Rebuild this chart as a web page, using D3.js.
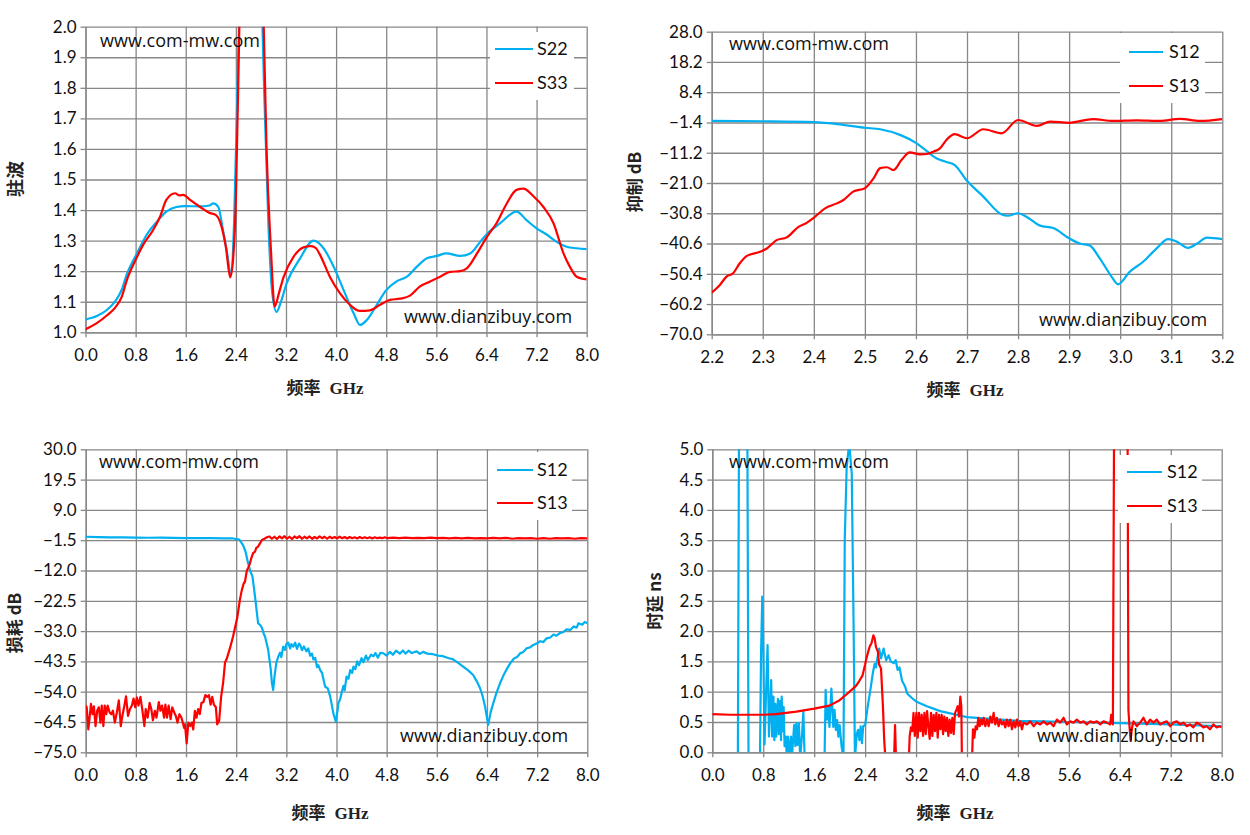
<!DOCTYPE html>
<html><head><meta charset="utf-8">
<script src="https://cdn.jsdelivr.net/npm/d3@7"></script>
<style>
body{margin:0;background:#fff;}
svg{display:block;}
</style></head><body>
<svg id="c" width="1250" height="835"></svg>
<script>
// ---------------- DATA ----------------
// Panel 1: VSWR (驻波)
const vswrXTicks = [0,0.8,1.6,2.4,3.2,4.0,4.8,5.6,6.4,7.2,8.0];
const vswrYTicks = [1.0,1.1,1.2,1.3,1.4,1.5,1.6,1.7,1.8,1.9,2.0];
const vswrS22 = [[0,1.042],[0.18,1.053],[0.34,1.073],[0.47,1.10],[0.58,1.14],[0.66,1.19],[0.8,1.25],[0.98,1.32],[1.14,1.362],[1.29,1.395],[1.45,1.41],[1.59,1.413],[1.83,1.412],[1.98,1.415],[2.04,1.422],[2.12,1.41],[2.19,1.34],[2.26,1.26],[2.32,1.19],[2.37,1.35],[2.42,1.75],[2.46,2.1],[2.55,2.9],[2.7,2.9],[2.8,2.2],[2.85,1.8],[2.92,1.35],[2.98,1.13],[3.05,1.067],[3.12,1.10],[3.21,1.16],[3.42,1.24],[3.64,1.30],[3.80,1.275],[3.96,1.215],[4.12,1.138],[4.28,1.062],[4.38,1.024],[4.49,1.04],[4.65,1.09],[4.80,1.138],[4.96,1.166],[5.13,1.182],[5.29,1.215],[5.45,1.242],[5.61,1.25],[5.76,1.258],[5.98,1.25],[6.14,1.258],[6.30,1.296],[6.40,1.32],[6.62,1.357],[6.88,1.395],[7.04,1.367],[7.20,1.34],[7.36,1.32],[7.52,1.296],[7.68,1.28],[7.84,1.275],[8.0,1.272]];
const vswrS33 = [[0,1.01],[0.18,1.03],[0.34,1.055],[0.47,1.08],[0.58,1.117],[0.66,1.171],[0.8,1.237],[0.92,1.286],[1.08,1.335],[1.19,1.378],[1.29,1.433],[1.43,1.455],[1.50,1.448],[1.56,1.45],[1.67,1.433],[1.83,1.41],[1.99,1.39],[2.07,1.385],[2.15,1.36],[2.24,1.28],[2.31,1.18],[2.36,1.25],[2.40,1.43],[2.46,2.05],[2.55,2.9],[2.75,2.9],[2.84,2.05],[2.89,1.6],[2.96,1.27],[3.02,1.084],[3.09,1.13],[3.16,1.18],[3.32,1.247],[3.48,1.278],[3.60,1.282],[3.68,1.275],[3.74,1.255],[3.90,1.182],[4.06,1.128],[4.22,1.09],[4.38,1.07],[4.54,1.072],[4.70,1.09],[4.86,1.106],[5.02,1.11],[5.18,1.12],[5.34,1.15],[5.50,1.166],[5.66,1.182],[5.82,1.198],[5.98,1.20],[6.09,1.21],[6.25,1.258],[6.40,1.31],[6.56,1.357],[6.72,1.42],[6.88,1.466],[6.99,1.47],[7.15,1.445],[7.31,1.41],[7.47,1.357],[7.63,1.258],[7.73,1.215],[7.84,1.182],[8.0,1.173]];

// Panel 2: rejection (抑制 dB)
const rejXTicks = [2.2,2.3,2.4,2.5,2.6,2.7,2.8,2.9,3.0,3.1,3.2];
const rejYTicks = [28.0,18.2,8.4,-1.4,-11.2,-21.0,-30.8,-40.6,-50.4,-60.2,-70.0];
const rejS12 = [[2.2,-0.9],[2.3,-1.0],[2.4,-1.3],[2.45,-2.0],[2.5,-3.1],[2.53,-3.6],[2.57,-5.5],[2.6,-8.0],[2.62,-10.5],[2.64,-13.0],[2.66,-14.2],[2.676,-15.2],[2.70,-20.3],[2.732,-25.4],[2.768,-31.2],[2.78,-31.6],[2.80,-30.8],[2.817,-32.0],[2.843,-34.8],[2.869,-35.6],[2.90,-38.9],[2.921,-40.6],[2.94,-41.2],[2.96,-45.4],[2.983,-51.3],[2.996,-53.8],[3.019,-49.7],[3.045,-46.5],[3.072,-42.1],[3.094,-39.2],[3.111,-40.0],[3.133,-42.0],[3.15,-40.7],[3.17,-38.7],[3.2,-39.2]];
const rejS13 = [[2.2,-56.5],[2.216,-54],[2.229,-51.3],[2.242,-50.2],[2.255,-47],[2.269,-44.6],[2.295,-43.3],[2.308,-42.2],[2.327,-39.5],[2.347,-38.6],[2.37,-35.2],[2.386,-33.9],[2.399,-32.4],[2.422,-29.2],[2.445,-27.6],[2.458,-26.5],[2.477,-23.8],[2.50,-22.7],[2.517,-19.5],[2.53,-16.2],[2.543,-15.9],[2.556,-16.8],[2.572,-13.5],[2.588,-11.1],[2.608,-11.7],[2.621,-11.6],[2.635,-10.8],[2.647,-9.8],[2.66,-7.0],[2.676,-5.2],[2.70,-6.5],[2.732,-3.6],[2.768,-4.9],[2.80,-0.6],[2.837,-2.5],[2.863,-1.1],[2.90,-1.5],[2.947,-0.3],[2.986,-0.9],[3.032,-0.7],[3.078,-0.9],[3.117,-0.2],[3.156,-0.9],[3.2,-0.3]];

// Panel 3: loss (损耗 dB)
const lossXTicks = [0,0.8,1.6,2.4,3.2,4.0,4.8,5.6,6.4,7.2,8.0];
const lossYTicks = [30.0,19.5,9.0,-1.5,-12.0,-22.5,-33.0,-43.5,-54.0,-64.5,-75.0];
const lossS12 = [[0,-0.3],[0.2,-0.4],[0.4,-0.5],[0.6,-0.55],[0.8,-0.6],[1.0,-0.65],[1.2,-0.6],[1.4,-0.7],[1.6,-0.75],[1.8,-0.8],[2.0,-0.8],[2.2,-0.85],[2.35,-0.9],[2.45,-1.3],[2.51,-3.2],[2.55,-5.5],[2.59,-9.5],[2.63,-12.5],[2.66,-14.1],[2.70,-21],[2.75,-30.3],[2.78,-30.8],[2.81,-31.8],[2.84,-34],[2.86,-34.9],[2.91,-39.5],[2.95,-46],[2.97,-51],[2.99,-53.4],[3.01,-49],[3.04,-44],[3.07,-41.9],[3.1,-40.5],[3.12,-42],[3.15,-38.4],[3.18,-39.5],[3.2,-37.5],[3.23,-37],[3.26,-39],[3.28,-37.5],[3.31,-38.4],[3.34,-37],[3.37,-39.2],[3.40,-37.3],[3.42,-37.8],[3.45,-39.6],[3.48,-38.3],[3.52,-40],[3.55,-39],[3.58,-41.5],[3.61,-40.8],[3.63,-42.8],[3.66,-42.3],[3.69,-45.5],[3.71,-44.8],[3.74,-46.5],[3.77,-47.5],[3.80,-50.5],[3.82,-52.3],[3.86,-52.8],[3.90,-55.7],[3.95,-61.5],[3.99,-64.4],[4.02,-60],[4.03,-58],[4.06,-56.5],[4.08,-54.5],[4.11,-52],[4.13,-53.5],[4.16,-48.8],[4.19,-49.5],[4.22,-46.5],[4.25,-47.5],[4.27,-45.3],[4.30,-46.2],[4.33,-43.5],[4.36,-44.8],[4.40,-42.4],[4.43,-43.8],[4.47,-41.5],[4.5,-43],[4.55,-41.2],[4.59,-41.7],[4.62,-40.6],[4.66,-42.2],[4.7,-40.5],[4.75,-40.7],[4.8,-41.5],[4.85,-40.2],[4.9,-41.2],[4.95,-39.8],[5.01,-40.8],[5.06,-39.7],[5.1,-40.8],[5.15,-39.8],[5.2,-40.6],[5.28,-40],[5.33,-40.9],[5.38,-40.2],[5.45,-40.8],[5.54,-41],[5.62,-41.5],[5.70,-41.7],[5.78,-42.3],[5.86,-42.8],[5.94,-44],[6.02,-45.3],[6.10,-46.6],[6.18,-48.2],[6.24,-50.5],[6.29,-52.8],[6.33,-55.5],[6.37,-59.2],[6.42,-65.5],[6.46,-61],[6.50,-58],[6.55,-54.5],[6.61,-51],[6.66,-48.5],[6.72,-46],[6.77,-44.2],[6.83,-42.5],[6.88,-42.0],[6.93,-40.7],[6.98,-40.2],[7.03,-39.0],[7.09,-38.6],[7.14,-37.8],[7.2,-37.2],[7.25,-36.5],[7.3,-36.8],[7.35,-35.5],[7.41,-35.2],[7.46,-34.2],[7.51,-34.6],[7.56,-33.7],[7.61,-33.4],[7.67,-32.4],[7.73,-32.6],[7.78,-31.4],[7.83,-31.8],[7.86,-30.3],[7.92,-30.8],[7.96,-29.8],[8.0,-30.3]];
const lossS13 = [[0,-58.8],[0.016,-59.4],[0.042,-67.1],[0.068,-61.8],[0.084,-58.2],[0.11,-61.8],[0.131,-59.1],[0.157,-65.9],[0.183,-60.6],[0.209,-59.4],[0.235,-64.7],[0.256,-58.8],[0.282,-65.9],[0.303,-58.8],[0.329,-61.8],[0.35,-58.8],[0.382,-61.2],[0.408,-61.8],[0.434,-60.6],[0.465,-64.7],[0.497,-61.2],[0.528,-57],[0.56,-65.9],[0.58,-63],[0.612,-59.4],[0.643,-55.6],[0.675,-62.4],[0.706,-60],[0.737,-58.8],[0.763,-56.4],[0.79,-59.4],[0.816,-56],[0.842,-58.8],[0.873,-55.8],[0.905,-60.6],[0.936,-65.9],[0.957,-60],[0.988,-63],[1.02,-57.9],[1.046,-60],[1.072,-63.9],[1.103,-60.6],[1.129,-63],[1.166,-57.6],[1.192,-60.6],[1.218,-58.8],[1.25,-63],[1.271,-58.5],[1.297,-63],[1.323,-58.8],[1.354,-63.5],[1.38,-59.4],[1.412,-61.2],[1.438,-62.4],[1.464,-64.7],[1.495,-61.8],[1.527,-63],[1.548,-64.7],[1.569,-66.5],[1.584,-65.3],[1.61,-71.9],[1.637,-64.7],[1.668,-65.9],[1.694,-64.7],[1.715,-67.1],[1.741,-60.6],[1.767,-63],[1.794,-60],[1.82,-61.8],[1.846,-57.9],[1.877,-57.6],[1.909,-55.2],[1.94,-55.8],[1.966,-55.2],[1.992,-58.5],[2.018,-55.8],[2.045,-58.5],[2.076,-59.4],[2.097,-65.3],[2.128,-64.1],[2.16,-55.8],[2.191,-51],[2.222,-43.9],[2.248,-42.7],[2.30,-39],[2.35,-34.9],[2.42,-28],[2.46,-22],[2.49,-18.8],[2.52,-16.5],[2.54,-15.9],[2.57,-12],[2.59,-11.2],[2.62,-9.5],[2.64,-7.8],[2.67,-6.0],[2.70,-5.5],[2.72,-4.2],[2.75,-3.7],[2.78,-2.6],[2.81,-1.4],[2.85,-1.0],[2.89,-0.5],[2.93,-0.2],[2.97,-1.0],[3.01,-0.3],[3.05,-1.1],[3.09,-0.2],[3.13,-0.9],[3.17,-0.1],[3.21,-1.0],[3.25,-0.3],[3.29,-1.1],[3.33,-0.2],[3.37,-0.8],[3.41,-0.1],[3.45,-1.0],[3.49,-0.3],[3.53,-0.9],[3.57,-0.2],[3.61,-1.0],[3.65,-0.4],[3.69,-0.9],[3.73,-0.2],[3.77,-0.8],[3.81,-0.3],[3.85,-1.0],[3.89,-0.3],[3.93,-0.8],[3.97,-0.4],[4.01,-0.9],[4.05,-0.3],[4.09,-0.8],[4.13,-0.4],[4.17,-0.9],[4.21,-0.4],[4.25,-0.8],[4.29,-0.5],[4.33,-0.9],[4.37,-0.4],[4.41,-0.8],[4.45,-0.5],[4.49,-0.8],[4.53,-0.5],[4.57,-0.9],[4.61,-0.5],[4.65,-0.8],[4.69,-0.6],[4.73,-0.8],[4.77,-0.5],[4.81,-0.8],[4.9,-0.6],[5.0,-0.8],[5.1,-0.6],[5.2,-0.8],[5.3,-0.7],[5.4,-0.8],[5.5,-0.6],[5.6,-0.8],[5.7,-0.7],[5.8,-0.9],[5.9,-0.7],[6.0,-0.9],[6.1,-0.7],[6.2,-0.9],[6.3,-0.8],[6.4,-0.9],[6.5,-0.7],[6.6,-0.9],[6.7,-0.7],[6.8,-1.0],[6.9,-0.8],[7.0,-0.9],[7.1,-0.8],[7.2,-1.0],[7.3,-0.8],[7.4,-1.0],[7.5,-0.8],[7.6,-0.9],[7.7,-0.8],[7.8,-1.0],[7.9,-0.8],[8.0,-0.9]];

// Panel 4: group delay (时延 ns)
const delayXTicks = [0,0.8,1.6,2.4,3.2,4.0,4.8,5.6,6.4,7.2,8.0];
const delayYTicks = [0.0,0.5,1.0,1.5,2.0,2.5,3.0,3.5,4.0,4.5,5.0];
const delayS12 = [[0,-0.5],[0.40,-0.5],[0.42,5.5],[0.55,5.5],[0.57,-0.5],[0.745,-0.5],[0.765,1.6],[0.785,2.57],[0.80,1.8],[0.82,0.13],[0.845,1.0],[0.868,1.77],[0.89,0.26],[0.925,1.19],[0.94,0.26],[0.96,0.92],[0.975,0.2],[0.99,0.8],[1.005,0.26],[1.03,0.88],[1.045,0.3],[1.065,0.85],[1.08,0.2],[1.09,0.92],[1.105,0.35],[1.12,0.75],[1.135,0.1],[1.155,0.26],[1.17,-0.1],[1.19,0.26],[1.21,-0.1],[1.235,0.26],[1.25,-0.1],[1.285,0.45],[1.305,0.1],[1.32,0.48],[1.34,0.12],[1.36,0.48],[1.38,-0.1],[1.41,0.3],[1.43,0.67],[1.45,-0.1],[1.47,-0.3],[1.76,-0.3],[1.78,1.03],[1.80,0.54],[1.82,0.75],[1.84,0.42],[1.87,1.05],[1.90,0.42],[1.92,0.7],[1.94,0.37],[1.96,0.53],[1.98,0.26],[2.0,0.45],[2.03,0.1],[2.06,-0.1],[2.08,3.5],[2.11,4.7],[2.15,5.1],[2.19,4.6],[2.22,2.0],[2.24,-0.1],[2.27,0.31],[2.29,0.37],[2.31,0.2],[2.33,0.43],[2.35,0.15],[2.37,0.43],[2.40,0.45],[2.44,0.75],[2.49,1.08],[2.52,1.3],[2.55,1.46],[2.57,1.4],[2.6,1.6],[2.62,1.71],[2.65,1.55],[2.69,1.71],[2.73,1.52],[2.77,1.6],[2.80,1.5],[2.85,1.47],[2.88,1.52],[2.91,1.36],[2.94,1.4],[2.98,1.18],[3.03,1.08],[3.06,0.97],[3.13,0.9],[3.2,0.84],[3.37,0.76],[3.58,0.68],[3.79,0.63],[4.0,0.58],[4.37,0.55],[4.8,0.52],[5.2,0.51],[5.6,0.50],[6.4,0.48],[7.2,0.46],[8.0,0.43]];
const delayS13 = [[0,0.63],[0.28,0.62],[0.8,0.62],[1.0,0.63],[1.32,0.67],[1.6,0.72],[1.84,0.77],[2.0,0.86],[2.1,0.95],[2.21,1.05],[2.26,1.1],[2.31,1.18],[2.36,1.27],[2.40,1.45],[2.42,1.55],[2.47,1.74],[2.50,1.8],[2.53,1.93],[2.55,1.88],[2.57,1.74],[2.60,1.66],[2.62,1.45],[2.65,1.38],[2.68,0.75],[2.70,0.2],[2.73,-0.3],[2.85,-0.3],[2.87,0.45],[2.89,-0.3],[3.08,-0.3],[3.10,0.27],[3.12,0.41],[3.14,0.35],[3.16,0.65],[3.18,0.27],[3.205,0.65],[3.226,0.24],[3.247,0.65],[3.268,0.35],[3.289,0.62],[3.31,0.27],[3.331,0.65],[3.352,0.30],[3.373,0.68],[3.393,0.43],[3.414,0.22],[3.435,0.65],[3.456,0.27],[3.477,0.62],[3.498,0.35],[3.519,0.65],[3.54,0.24],[3.561,0.62],[3.582,0.38],[3.603,0.62],[3.624,0.30],[3.644,0.59],[3.665,0.35],[3.686,0.57],[3.707,0.27],[3.728,0.54],[3.749,0.32],[3.77,0.57],[3.791,0.30],[3.812,0.65],[3.833,0.70],[3.854,0.76],[3.875,0.59],[3.895,0.92],[3.911,0.76],[3.922,-0.3],[4.073,-0.3],[4.094,0.38],[4.115,0.24],[4.136,0.43],[4.157,0.38],[4.178,0.57],[4.199,0.43],[4.22,0.54],[4.241,0.46],[4.262,0.57],[4.288,0.43],[4.314,0.54],[4.34,0.43],[4.366,0.59],[4.392,0.49],[4.418,0.65],[4.444,0.46],[4.47,0.57],[4.497,0.43],[4.523,0.54],[4.549,0.46],[4.575,0.51],[4.601,0.41],[4.627,0.54],[4.653,0.43],[4.68,0.54],[4.706,0.38],[4.732,0.51],[4.758,0.41],[4.784,0.54],[4.81,0.43],[4.836,0.51],[4.863,0.38],[4.889,0.49],[4.941,0.46],[4.993,0.51],[5.046,0.43],[5.098,0.49],[5.15,0.46],[5.203,0.51],[5.255,0.46],[5.307,0.49],[5.359,0.43],[5.412,0.54],[5.464,0.49],[5.516,0.57],[5.568,0.46],[5.621,0.51],[5.673,0.49],[5.725,0.54],[5.778,0.49],[5.83,0.51],[5.882,0.46],[5.935,0.51],[5.987,0.49],[6.04,0.51],[6.092,0.46],[6.144,0.51],[6.197,0.49],[6.249,0.46],[6.265,0.62],[6.291,0.46],[6.312,6],[6.52,6],[6.535,0.7],[6.55,0.45],[6.57,0.2],[6.59,0.4],[6.614,0.51],[6.667,0.43],[6.719,0.49],[6.771,0.57],[6.823,0.46],[6.876,0.54],[6.928,0.49],[6.98,0.54],[7.033,0.46],[7.085,0.49],[7.137,0.51],[7.19,0.43],[7.242,0.49],[7.294,0.51],[7.346,0.46],[7.399,0.49],[7.451,0.43],[7.503,0.46],[7.555,0.41],[7.608,0.49],[7.66,0.46],[7.712,0.41],[7.764,0.43],[7.817,0.38],[7.869,0.46],[7.921,0.41],[7.973,0.43],[8.0,0.41]];

// Labels
const xTitle = '频率';
const xUnit = 'GHz';
const watermarkTop = 'www.com-mw.com';
const watermarkBottom = 'www.dianzibuy.com';

// ---------------- DRAW ----------------
const BLUE = '#00B0F0', RED = '#FF0000', GRID = '#878787';
const svg = d3.select('#c');
const TICKFONT = 'Lato, "Open Sans", sans-serif';

function drawPanel(o, idx) {
  const g = svg.append('g');
  const x = d3.scaleLinear().domain(o.xDomain).range([o.x0, o.x1]);
  const y = d3.scaleLinear().domain(o.yDomain).range([o.y1, o.y0]);
  const W = o.x1 - o.x0, H = o.y1 - o.y0;

  // grid
  const gy = g.append('g').attr('transform', `translate(${o.x0},0)`)
    .call(d3.axisLeft(y).tickValues(o.yTicks).tickSize(-W).tickFormat(''));
  gy.select('.domain').remove();
  const gx = g.append('g').attr('transform', `translate(0,${o.y1})`)
    .call(d3.axisBottom(x).tickValues(o.xTicks).tickSize(-H).tickFormat(''));
  gx.select('.domain').remove();
  g.selectAll('.tick line').attr('stroke', GRID).attr('stroke-width', 1.3);

  // axes with outer ticks and labels
  const ay = g.append('g').attr('transform', `translate(${o.x0},0)`)
    .call(d3.axisLeft(y).tickValues(o.yTicks).tickSize(5).tickSizeOuter(0).tickPadding(4).tickFormat(d3.format('.1f')));
  const ax = g.append('g').attr('transform', `translate(0,${o.y1})`)
    .call(d3.axisBottom(x).tickValues(o.xTicks).tickSize(5).tickSizeOuter(0).tickPadding(12).tickFormat(d3.format('.1f')));
  [ay, ax].forEach(a => {
    a.select('.domain').attr('stroke', GRID).attr('stroke-width', 1.3);
    a.selectAll('.tick line').attr('stroke', GRID).attr('stroke-width', 1.3);
    a.selectAll('.tick text').attr('font-family', TICKFONT).attr('font-size', 17).attr('fill', '#111');
  });

  // clip
  const cid = 'clip' + idx;
  svg.append('clipPath').attr('id', cid).append('rect')
    .attr('x', o.x0).attr('y', o.y0).attr('width', W).attr('height', H);

  const line = d3.line().x(d => x(d[0])).y(d => y(d[1])).curve(o.curve);
  const lg = g.append('g').attr('clip-path', `url(#${cid})`);
  o.series.forEach(s => {
    lg.append('path').datum(s.data).attr('d', line)
      .attr('fill', 'none').attr('stroke', s.color).attr('stroke-width', 2.2)
      .attr('stroke-linejoin', 'round');
  });

  // watermarks
  g.append('text').attr('x', o.wm1[0]).attr('y', o.wm1[1]).text(watermarkTop)
    .attr('font-family', '"Open Sans", sans-serif').attr('font-size', 18).attr('fill', '#111');
  g.append('text').attr('x', o.wm2[0]).attr('y', o.wm2[1]).text(watermarkBottom)
    .attr('font-family', '"Open Sans", sans-serif').attr('font-size', 18).attr('fill', '#111');

  // legend
  const L = o.legend;
  g.append('rect').attr('x', L.box[0]).attr('y', L.box[1]).attr('width', L.box[2]).attr('height', L.box[3]).attr('fill', '#fff');
  o.series.forEach((s, i) => {
    const ly = L.ys[i];
    g.append('line').attr('x1', L.lx[0]).attr('x2', L.lx[1]).attr('y1', ly).attr('y2', ly)
      .attr('stroke', s.color).attr('stroke-width', 2.2);
    g.append('text').attr('x', L.tx).attr('y', ly).attr('dy', '0.36em').text(s.name)
      .attr('font-family', TICKFONT).attr('font-size', 18).attr('fill', '#111');
  });

  // y title
  g.append('text').attr('transform', `translate(${o.yt[0]},${o.yt[1]}) rotate(-90)`)
    .attr('text-anchor', 'middle').attr('dy', '0.35em')
    .attr('font-family', '"Noto Sans CJK SC", sans-serif').attr('font-weight', 700)
    .attr('font-size', o.ytSize).attr('fill', '#222').text(o.yTitle);

  // x title
  const xt = g.append('text').attr('x', o.xt[0]).attr('y', o.xt[1]).attr('dy', '0.35em')
    .attr('text-anchor', 'middle').attr('font-weight', 700).attr('font-size', 17).attr('fill', '#222');
  xt.append('tspan').attr('font-family', '"Noto Sans CJK SC", sans-serif').text(xTitle);
  xt.append('tspan').attr('dx', 9).attr('font-family', '"Liberation Serif", serif').text(xUnit);
}

const panels = [
  { xDomain:[0,8], yDomain:[1,2], x0:85.5, x1:586.7, y0:26.7, y1:332.3,
    xTicks:vswrXTicks, yTicks:vswrYTicks, curve:d3.curveMonotoneX,
    series:[{name:'S22', color:BLUE, data:vswrS22},{name:'S33', color:RED, data:vswrS33}],
    legend:{box:[490,32,84,68], ys:[49,83], lx:[495,533], tx:537},
    wm1:[100,47], wm2:[404,323], yt:[16,179], ytSize:18, yTitle:'驻波', xt:[325,388] },
  { xDomain:[2.2,3.2], yDomain:[-70,28], x0:711.7, x1:1222.3, y0:31.7, y1:334.3,
    xTicks:rejXTicks, yTicks:rejYTicks, curve:d3.curveMonotoneX,
    series:[{name:'S12', color:BLUE, data:rejS12},{name:'S13', color:RED, data:rejS13}],
    legend:{box:[1120,33,85,70], ys:[52,86], lx:[1129,1163], tx:1169},
    wm1:[729,50], wm2:[1039,326], yt:[635,182], ytSize:17, yTitle:'抑制 dB', xt:[965,390] },
  { xDomain:[0,8], yDomain:[-75,30], x0:85.7, x1:587.3, y0:449.3, y1:752.3,
    xTicks:lossXTicks, yTicks:lossYTicks, curve:d3.curveLinear,
    series:[{name:'S12', color:BLUE, data:lossS12},{name:'S13', color:RED, data:lossS13}],
    legend:{box:[488,452,84,68], ys:[470,503], lx:[497,533], tx:537},
    wm1:[99,468], wm2:[400,742], yt:[15,623], ytSize:17, yTitle:'损耗 dB', xt:[330,813] },
  { xDomain:[0,8], yDomain:[0,5], x0:712.3, x1:1221.7, y0:449.3, y1:752.3,
    xTicks:delayXTicks, yTicks:delayYTicks, curve:d3.curveLinear,
    series:[{name:'S12', color:BLUE, data:delayS12},{name:'S13', color:RED, data:delayS13}],
    legend:{box:[1118,455,84,68], ys:[472,506], lx:[1127,1162], tx:1167},
    wm1:[729,468], wm2:[1037,742], yt:[655,601], ytSize:17, yTitle:'时延 ns', xt:[955,813] }
];
panels.forEach(drawPanel);
</script>
</body></html>
